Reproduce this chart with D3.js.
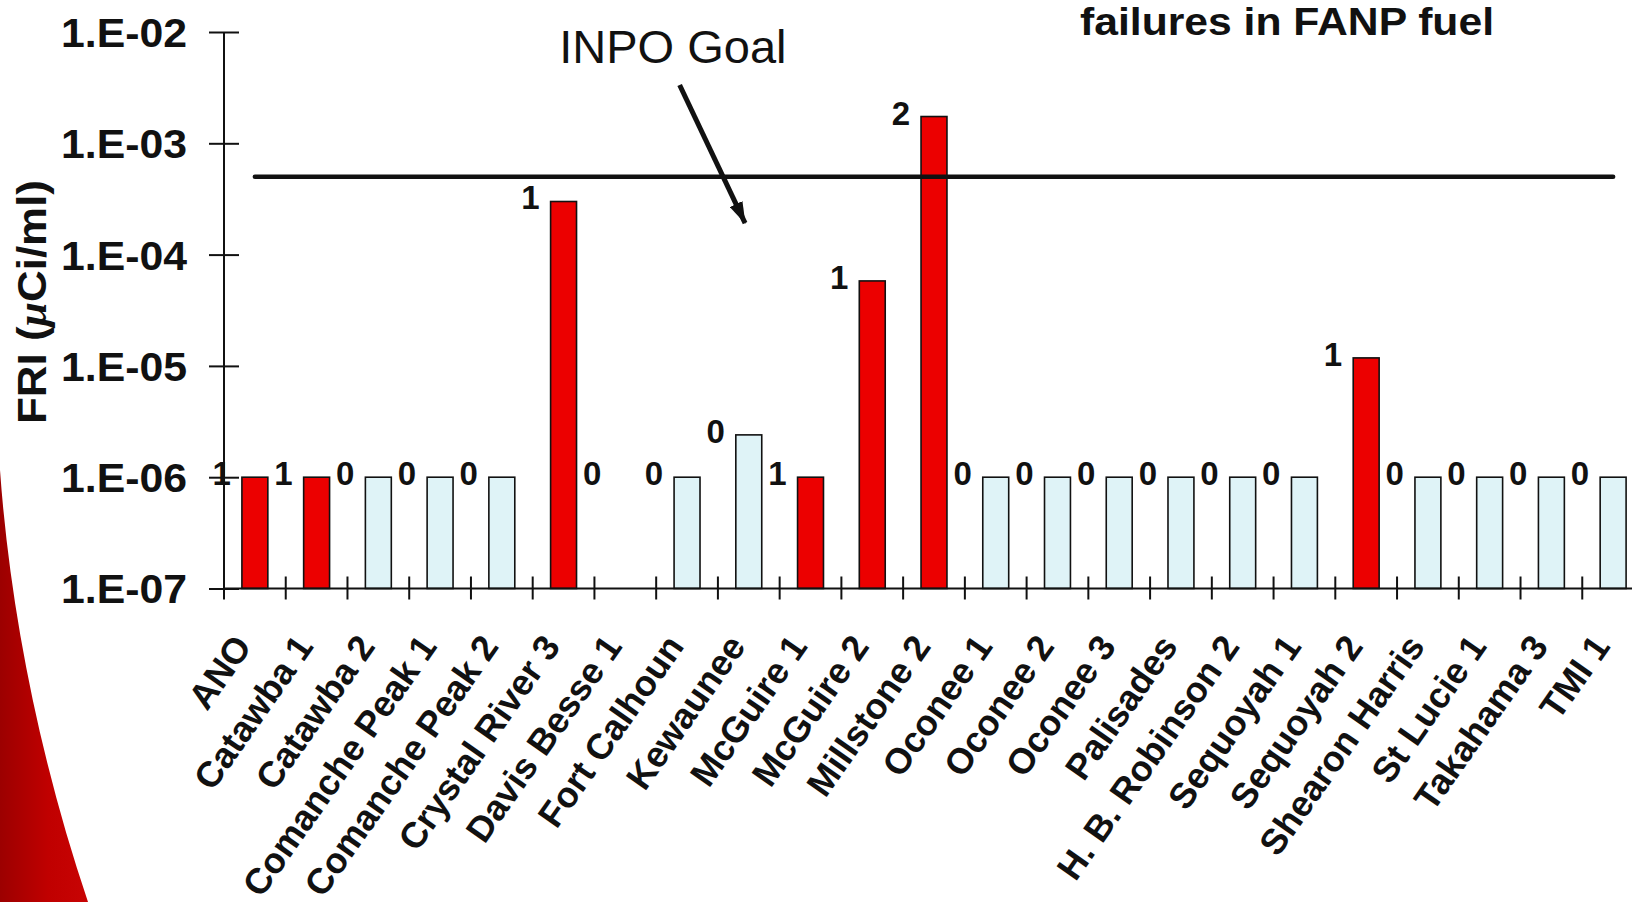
<!DOCTYPE html>
<html>
<head>
<meta charset="utf-8">
<script src="https://cdn.jsdelivr.net/npm/d3@7"></script>
<style>
  html, body { margin: 0; padding: 0; background: #ffffff; }
  svg { display: block; font-family: "Liberation Sans", Arial, Helvetica, sans-serif; }
</style>
</head>
<body>
<svg id="chart" width="1632" height="902"></svg>
<script>
// Plants with FANP fuel and their fuel reliability indicator
const categories = ["ANO", "Catawba 1", "Catawba 2", "Comanche Peak 1", "Comanche Peak 2",
  "Crystal River 3", "Davis Besse 1", "Fort Calhoun", "Kewaunee", "McGuire 1", "McGuire 2",
  "Millstone 2", "Oconee 1", "Oconee 2", "Oconee 3", "Palisades", "H. B. Robinson 2",
  "Sequoyah 1", "Sequoyah 2", "Shearon Harris", "St Lucie 1", "Takahama 3", "TMI 1"];

// FRI in µCi/ml (null = no reported value)
const friValues = [1e-6, 1e-6, 1e-6, 1e-6, 1e-6,
  3.0e-4, null, 1e-6, 2.4e-6, 1e-6, 5.8e-5,
  1.74e-3, 1e-6, 1e-6, 1e-6, 1e-6, 1e-6,
  1e-6, 1.18e-5, 1e-6, 1e-6, 1e-6, 1e-6];

// Number of fuel failures per plant
const failureCounts = [1, 1, 0, 0, 0,
  1, 0, 0, 0, 1, 1,
  2, 0, 0, 0, 0, 0,
  0, 1, 0, 0, 0, 0];

const yTickValues = [1e-7, 1e-6, 1e-5, 1e-4, 1e-3, 1e-2];
const inpoGoal = 5e-4;
const labelFloor = 1e-6;   // count labels without a bar sit at this level

// Annotation anchors in data space: [band position, FRI]
const goalTextAt = [5.43, 5.26e-3];
const arrowFrom = [7.38, 3.34e-3];
const arrowTo = [8.44, 1.92e-4];

(function draw() {
  const svg = d3.select("#chart");
  const plotLeft = 224, plotRight = 1644, plotTop = 32, plotBottom = 588.5;

  const x = d3.scaleBand().domain(categories).range([plotLeft, plotRight])
    .paddingInner(0.58).paddingOuter(0.29);
  const xPos = d3.scaleLinear().domain([0, categories.length]).range([plotLeft, plotRight]);
  const y = d3.scaleLog().domain([1e-7, 1e-2]).range([plotBottom, plotTop]);

  const RED = "#ec0000", PALE = "#dff3f7", INK = "#111111";

  // decorative red swoosh at lower left
  const defs = svg.append("defs");
  const grad = defs.append("linearGradient").attr("id", "swoosh")
    .attr("x1", "0").attr("y1", "0").attr("x2", "1").attr("y2", "0");
  grad.append("stop").attr("offset", "0").attr("stop-color", "#9c0000");
  grad.append("stop").attr("offset", "0.55").attr("stop-color", "#c00000");
  grad.append("stop").attr("offset", "1").attr("stop-color", "#c80404");
  svg.append("path")
    .attr("d", "M0,470 C10,610 40,760 88,902 L0,902 Z")
    .attr("fill", "url(#swoosh)");

  // arrow marker
  defs.append("marker").attr("id", "head")
    .attr("markerUnits", "userSpaceOnUse")
    .attr("markerWidth", 22).attr("markerHeight", 14)
    .attr("refX", 21).attr("refY", 7).attr("orient", "auto")
    .append("path").attr("d", "M0,0 L22,7 L0,14 Z").attr("fill", INK);

  const data = categories.map((c, i) => ({ cat: c, v: friValues[i], n: failureCounts[i] }));

  // bars
  svg.append("g").selectAll("rect")
    .data(data.filter(d => d.v != null))
    .join("rect")
    .attr("x", d => x(d.cat))
    .attr("y", d => y(d.v))
    .attr("width", x.bandwidth())
    .attr("height", d => y(1e-7) - y(d.v))
    .attr("fill", d => d.n > 0 ? RED : PALE)
    .attr("stroke", INK)
    .attr("stroke-width", 1.6);

  // failure-count labels
  svg.append("g").selectAll("text")
    .data(data)
    .join("text")
    .attr("x", d => x(d.cat) - 11)
    .attr("y", d => y(d.v == null ? labelFloor : d.v) + 8)
    .attr("text-anchor", "end")
    .attr("font-size", 33)
    .attr("font-weight", "bold")
    .attr("fill", INK)
    .text(d => d.n);

  // y axis
  const yAxis = svg.append("g")
    .attr("transform", `translate(${plotLeft},0)`)
    .call(d3.axisLeft(y).tickValues(yTickValues).tickSize(15).tickPadding(22)
      .tickFormat(d => "1.E-" + String(-Math.round(Math.log10(d))).padStart(2, "0")));
  yAxis.select(".domain").attr("stroke", INK).attr("stroke-width", 2)
    .attr("d", `M0,${plotTop}V${plotBottom}`);
  yAxis.selectAll(".tick line").attr("x1", 15).attr("stroke", INK).attr("stroke-width", 2);
  yAxis.selectAll(".tick text")
    .attr("font-size", 40).attr("font-weight", "bold").attr("fill", INK)
    .attr("font-family", "'Liberation Sans', Arial, sans-serif")
    .attr("dy", "0.36em")
    .attr("textLength", 126).attr("lengthAdjust", "spacingAndGlyphs");

  // x axis
  const xAxis = svg.append("g")
    .attr("transform", `translate(0,${plotBottom})`)
    .call(d3.axisBottom(x).tickSize(0).tickPadding(0));
  xAxis.select(".domain").attr("stroke", INK).attr("stroke-width", 2)
    .attr("d", `M${plotLeft},0H${plotRight}`);
  xAxis.selectAll(".tick text")
    .attr("font-size", 36).attr("font-weight", "bold").attr("fill", INK)
    .attr("font-family", "'Liberation Sans', Arial, sans-serif")
    .attr("text-anchor", "end")
    .attr("y", 0).attr("dy", 0)
    .attr("transform", "translate(-2,58) rotate(-55)");
  // category separators crossing the axis line
  const bounds = d3.range(categories.length + 1).map(i => xPos(i));
  xAxis.append("g").selectAll("line")
    .data(bounds)
    .join("line")
    .attr("x1", d => d).attr("x2", d => d)
    .attr("y1", -12).attr("y2", 11)
    .attr("stroke", INK).attr("stroke-width", 2);

  // INPO goal line across the plants
  const goalLine = d3.line()
    .x(c => x(c) + x.bandwidth() / 2)
    .y(() => y(inpoGoal));
  svg.append("path")
    .attr("d", goalLine(categories))
    .attr("fill", "none")
    .attr("stroke", INK)
    .attr("stroke-width", 4.5)
    .attr("stroke-linecap", "round");

  // goal annotation
  svg.append("text")
    .attr("x", xPos(goalTextAt[0]))
    .attr("y", y(goalTextAt[1]))
    .attr("font-size", 47)
    .attr("fill", INK)
    .text("INPO Goal");
  svg.append("line")
    .attr("x1", xPos(arrowFrom[0])).attr("y1", y(arrowFrom[1]))
    .attr("x2", xPos(arrowTo[0])).attr("y2", y(arrowTo[1]))
    .attr("stroke", INK).attr("stroke-width", 5)
    .attr("marker-end", "url(#head)");

  // heading fragment at top right
  svg.append("text")
    .attr("x", 1080).attr("y", 35)
    .attr("font-size", 39)
    .attr("font-weight", "bold")
    .attr("fill", INK)
    .attr("textLength", 414).attr("lengthAdjust", "spacingAndGlyphs")
    .text("failures in FANP fuel");

  // y axis title
  const yTitle = svg.append("text")
    .attr("transform", "translate(46,302) rotate(-90)")
    .attr("text-anchor", "middle")
    .attr("font-size", 40)
    .attr("font-weight", "bold")
    .attr("fill", INK)
    .attr("textLength", 244).attr("lengthAdjust", "spacingAndGlyphs");
  yTitle.append("tspan").text("FRI (");
  yTitle.append("tspan").attr("font-style", "italic").attr("font-family", "'Liberation Serif', serif").text("μ");
  yTitle.append("tspan").text("Ci/ml)");
})();
</script>
</body>
</html>
